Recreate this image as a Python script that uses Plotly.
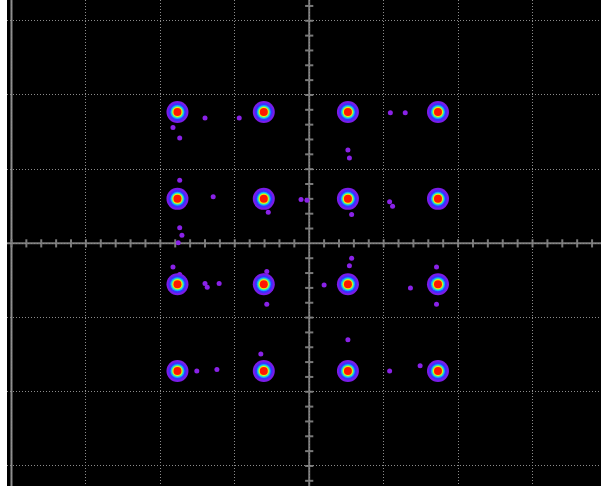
import plotly.graph_objects as go

# 16-QAM symbol centres (I, Q) in grid divisions
sym_i = [-1.77, -0.61, 0.52, 1.73] * 4
sym_q = [1.77] * 4 + [0.60] * 4 + [-0.55] * 4 + [-1.72] * 4

# isolated low-density hits between symbols
hit_i = [-1.40, -0.94, -1.74, -1.83, 1.09, 1.29, 0.52, 0.54,
         -1.74, -1.29, -0.11, -0.03, 1.08, 1.12, 0.57, -1.74, -1.71, -1.76, -0.55,
         -1.83, -1.74, -1.40, -1.37, -1.21, -0.57, -0.61, 0.20, 0.57, 0.54, 1.71, 1.36, 1.71, -0.57,
         -0.65, -1.51, -1.24, 0.52, 1.08, 1.49]
hit_q = [1.69, 1.69, 1.42, 1.56, 1.76, 1.76, 1.26, 1.15,
         0.85, 0.63, 0.59, 0.58, 0.56, 0.50, 0.39, 0.21, 0.11, 0.01, 0.42,
         -0.32, -0.42, -0.54, -0.59, -0.54, -0.38, -0.44, -0.56, -0.20, -0.30, -0.32, -0.60, -0.82, -0.82,
         -1.49, -1.72, -1.70, -1.30, -1.72, -1.65]

# density colour layers, outermost first: (colour, marker diameter)
layers = [("#7a1ce8", 22), ("#3a30ff", 18), ("#10a8ff", 14),
          ("#40f0a0", 12), ("#f4f000", 10), ("#ff1800", 8)]

grid_col = "#8c8c8c"
axis_col = "#7a7a7a"

fig = go.Figure()

fig.add_trace(go.Scatter(x=hit_i, y=hit_q, mode="markers",
                         marker=dict(color="#8a22e8", size=5, line=dict(width=0)),
                         hoverinfo="skip", showlegend=False))

for col, sz in layers:
    fig.add_trace(go.Scatter(x=sym_i, y=sym_q, mode="markers",
                             marker=dict(color=col, size=sz, line=dict(width=0)),
                             hoverinfo="skip", showlegend=False))

shapes = []
# centre axes and left frame line
shapes.append(dict(type="line", xref="x", yref="paper", x0=0, x1=0, y0=0, y1=1,
                   line=dict(color=axis_col, width=2), layer="below"))
shapes.append(dict(type="line", xref="paper", yref="y", x0=0, x1=1, y0=0, y1=0,
                   line=dict(color=axis_col, width=2), layer="below"))
shapes.append(dict(type="line", xref="x", yref="paper", x0=-4, x1=-4, y0=0, y1=1,
                   line=dict(color="#909090", width=2), layer="below"))

# minor ticks on the centre axes, 5 per division
tick_pos = [k / 5 for k in range(-20, 21) if k != 0]
for t in tick_pos:
    shapes.append(dict(type="line", xref="x", yref="y", x0=t, x1=t, y0=-0.055, y1=0.055,
                       line=dict(color=axis_col, width=2), layer="below"))
    shapes.append(dict(type="line", xref="x", yref="y", x0=-0.055, x1=0.055, y0=t, y1=t,
                       line=dict(color=axis_col, width=2), layer="below"))

fig.update_layout(
    width=601, height=486,
    margin=dict(l=7, r=0, t=0, b=0),
    paper_bgcolor="white",
    plot_bgcolor="black",
    shapes=shapes,
    showlegend=False,
    xaxis=dict(range=[-4.06, 3.92], dtick=1, tick0=0, showgrid=True,
               gridcolor=grid_col, gridwidth=1, griddash="1px,2px",
               zeroline=False, showticklabels=False, ticks="", fixedrange=True),
    yaxis=dict(range=[-3.27, 3.28], dtick=1, tick0=0, showgrid=True,
               gridcolor=grid_col, gridwidth=1, griddash="1px,2px",
               zeroline=False, showticklabels=False, ticks="", fixedrange=True),
)

fig.write_html("out.html")
